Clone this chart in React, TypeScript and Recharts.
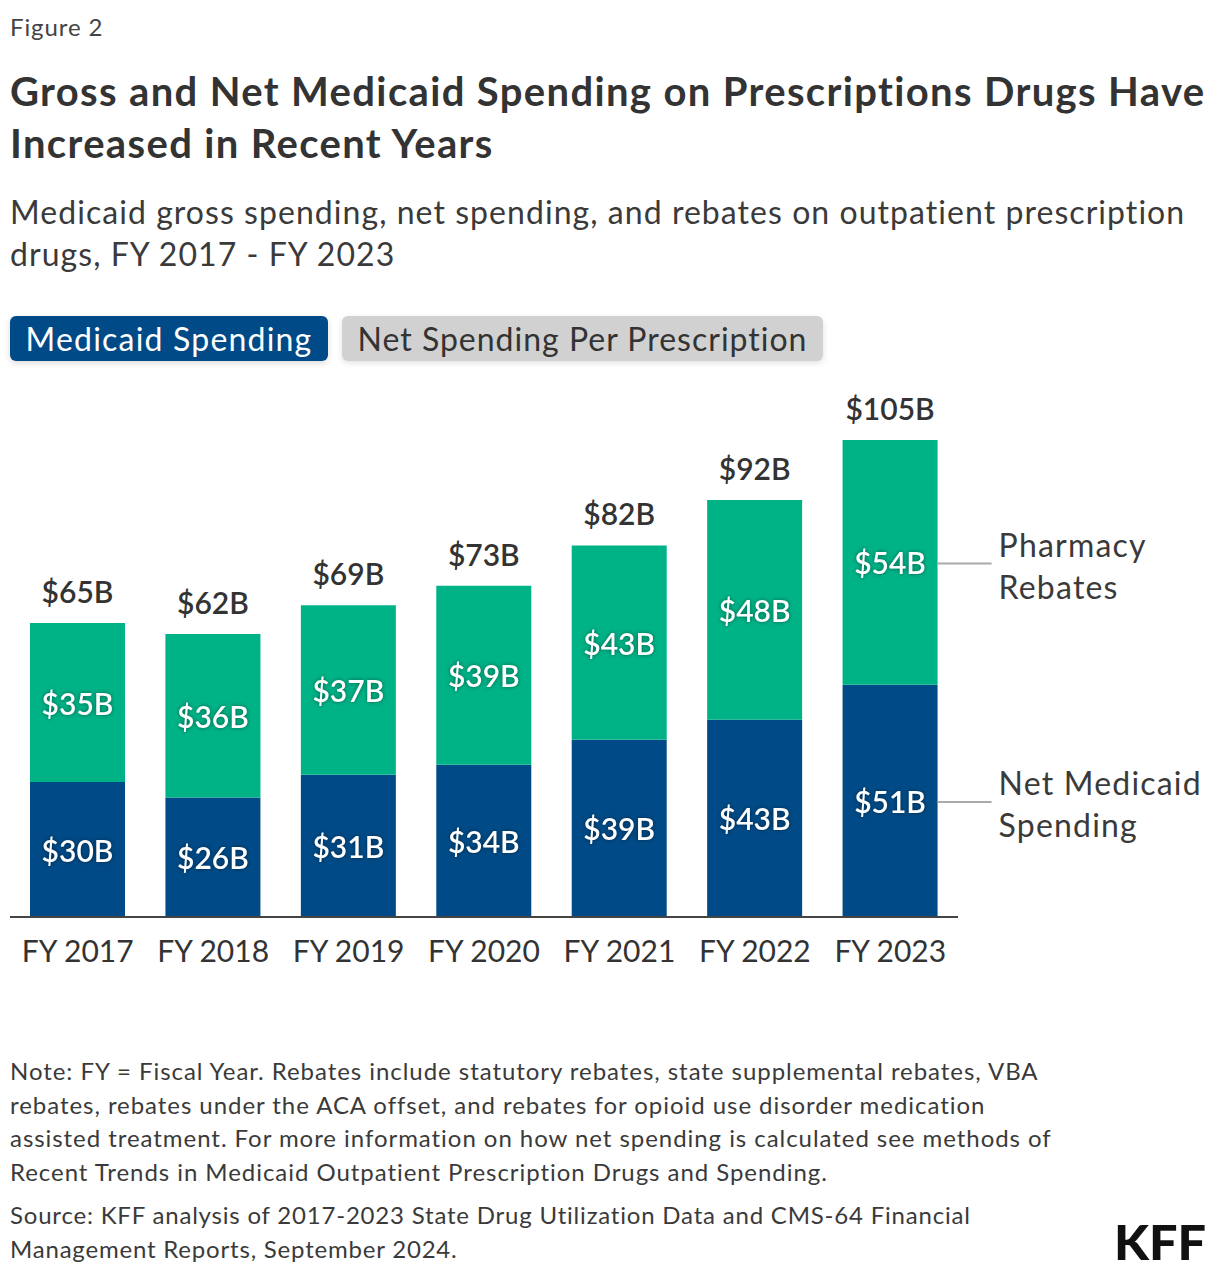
import React from "react";
import { BarChart, Bar, XAxis, YAxis, LabelList } from "recharts";

// Medicaid outpatient Rx spending, $ billions
const YEARS = ["FY 2017", "FY 2018", "FY 2019", "FY 2020", "FY 2021", "FY 2022", "FY 2023"];
const NET_SPENDING = [29.7, 26.3, 31.3, 33.5, 39.0, 43.4, 51.1];
const REBATES = [35.0, 36.0, 37.3, 39.4, 42.8, 48.4, 53.9];
const TOTALS = [65, 62, 69, 73, 82, 92, 105];

const SERIES_LABELS = { net: ["Net Medicaid", "Spending"], rebates: ["Pharmacy", "Rebates"] };

const NAVY = "#004b87";
const GREEN = "#00b387";
const TEXT = "#333333";
const FONT = "Lato, 'Noto Sans', sans-serif";

const data = YEARS.map((year, i) => ({
  year,
  net: NET_SPENDING[i],
  rebates: REBATES[i],
  total: TOTALS[i],
}));

const fmt = (v: number) => `$${Math.round(v)}B`;

function InnerLabel(props: any) {
  const { x, y, width, height, value } = props;
  return (
    <text
      x={x + width / 2}
      y={y + height / 2}
      textAnchor="middle"
      dominantBaseline="central"
      fill="#fff"
      fontSize={30}
      fontWeight={600}
      fontFamily={FONT}
      style={{ filter: "drop-shadow(0 0 2px rgba(0,0,0,0.45))" }}
    >
      {fmt(value)}
    </text>
  );
}

function TotalLabel(props: any) {
  const { x, y, width, index } = props;
  return (
    <text
      x={x + width / 2}
      y={y - 32}
      textAnchor="middle"
      dominantBaseline="central"
      fill={TEXT}
      fontSize={30}
      fontWeight={600}
      fontFamily={FONT}
    >
      {fmt(TOTALS[index])}
    </text>
  );
}

// leader line + series name, only next to the last bar
function sideLabel(lines: string[]) {
  return (props: any) => {
    const { x, y, width, height, index } = props;
    if (index !== YEARS.length - 1) return null;
    const ly = y + height / 2 + 1;
    const x0 = x + width;
    return (
      <g>
        <line x1={x0} x2={x0 + 54} y1={ly} y2={ly} stroke="#aaaaaa" strokeWidth={2} />
        {lines.map((t, i) => (
          <text
            key={t}
            x={x0 + 61}
            y={ly - 19 + i * 42}
            dominantBaseline="central"
            fill="#3a3a3a"
            fontSize={32}
            fontFamily={FONT}
            letterSpacing={1.2}
          >
            {t}
          </text>
        ))}
      </g>
    );
  };
}

export default function App() {
  return (
    <div style={{ position: "relative", width: 1220, height: 1276, fontFamily: FONT, color: TEXT, background: "#fff" }}>
      <style>{`body{margin:0}`}</style>
      <div style={{ position: "absolute", left: 10, top: 10, fontSize: 24, lineHeight: "34px", color: "#444", letterSpacing: 0.9 }}>Figure 2</div>
      <div style={{ position: "absolute", left: 10, top: 65, fontSize: 40, lineHeight: "52px", fontWeight: 700, whiteSpace: "nowrap", letterSpacing: 1.35 }}>
        Gross and Net Medicaid Spending on Prescriptions Drugs Have
        <br />
        Increased in Recent Years
      </div>
      <div style={{ position: "absolute", left: 10, top: 191, fontSize: 32, lineHeight: "42px", color: "#3a3a3a", whiteSpace: "nowrap", letterSpacing: 1.05 }}>
        Medicaid gross spending, net spending, and rebates on outpatient prescription
        <br />
        drugs, FY 2017 - FY 2023
      </div>

      <div
        style={{
          position: "absolute", left: 10, top: 316, width: 318, height: 45, borderRadius: 6,
          background: NAVY, color: "#fff", fontSize: 32, lineHeight: "45px", textAlign: "center",
          boxShadow: "0 2px 6px rgba(0,0,0,0.15)", letterSpacing: 1.2,
        }}
      >
        Medicaid Spending
      </div>
      <div
        style={{
          position: "absolute", left: 342, top: 316, width: 481, height: 45, borderRadius: 6,
          background: "#d1d1d1", color: TEXT, fontSize: 32, lineHeight: "45px", textAlign: "center",
          boxShadow: "0 2px 6px rgba(0,0,0,0.12)", letterSpacing: 1,
        }}
      >
        Net Spending Per Prescription
      </div>

      <div style={{ position: "absolute", left: 0, top: 380 }}>
        <BarChart width={1220} height={620} data={data} margin={{ top: 60, right: 262, bottom: 43, left: 10 }}>
          <XAxis
            dataKey="year"
            height={40}
            tickLine={false}
            axisLine={{ stroke: "#444", strokeWidth: 2 }}
            tickMargin={18}
            tick={{ fontSize: 30, fill: TEXT, fontFamily: FONT }}
            interval={0}
          />
          <YAxis hide width={0} domain={[0, 105]} />
          <Bar dataKey="net" stackId="a" fill={NAVY} barSize={95} isAnimationActive={false}>
            <LabelList dataKey="net" content={<InnerLabel />} />
            <LabelList dataKey="net" content={sideLabel(SERIES_LABELS.net)} />
          </Bar>
          <Bar dataKey="rebates" stackId="a" fill={GREEN} barSize={95} isAnimationActive={false}>
            <LabelList dataKey="rebates" content={<InnerLabel />} />
            <LabelList dataKey="total" content={<TotalLabel />} />
            <LabelList dataKey="rebates" content={sideLabel(SERIES_LABELS.rebates)} />
          </Bar>
        </BarChart>
      </div>

      <div style={{ position: "absolute", left: 10, top: 1054, fontSize: 24, lineHeight: "33.5px", color: "#3a3a3a", whiteSpace: "nowrap", letterSpacing: 0.95 }}>
        Note: FY = Fiscal Year. Rebates include statutory rebates, state supplemental rebates, VBA
        <br />
        rebates, rebates under the ACA offset, and rebates for opioid use disorder medication
        <br />
        assisted treatment. For more information on how net spending is calculated see methods of
        <br />
        Recent Trends in Medicaid Outpatient Prescription Drugs and Spending.
      </div>
      <div style={{ position: "absolute", left: 10, top: 1198, fontSize: 24, lineHeight: "33.5px", color: "#3a3a3a", whiteSpace: "nowrap", letterSpacing: 0.8 }}>
        Source: KFF analysis of 2017-2023 State Drug Utilization Data and CMS-64 Financial
        <br />
        Management Reports, September 2024.
      </div>
      <div
        style={{
          position: "absolute", left: 1114, top: 1214, fontSize: 48, lineHeight: "56px", fontWeight: 900,
          color: "#111", letterSpacing: 0, transform: "scaleX(1.05)", transformOrigin: "left",
        }}
      >
        KFF
      </div>
    </div>
  );
}
